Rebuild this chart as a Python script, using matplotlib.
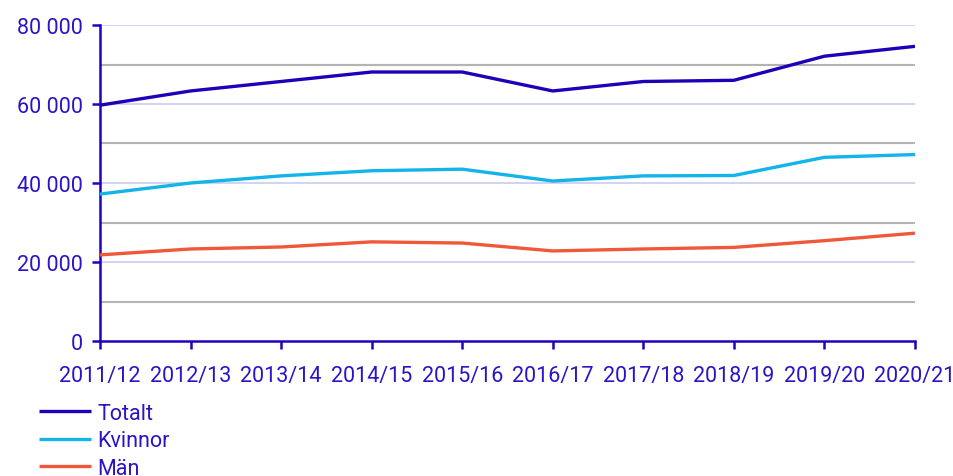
import matplotlib
matplotlib.use("Agg")
import matplotlib.pyplot as plt
from matplotlib.ticker import FuncFormatter, MultipleLocator

years = ["2011/12", "2012/13", "2013/14", "2014/15", "2015/16",
         "2016/17", "2017/18", "2018/19", "2019/20", "2020/21"]
totalt = [59700, 63300, 65700, 68100, 68100, 63300, 65700, 66000, 72100, 74600]
kvinnor = [37200, 40000, 41800, 43100, 43500, 40500, 41800, 41900, 46500, 47200]
man = [21800, 23300, 23800, 25100, 24800, 22800, 23300, 23700, 25400, 27300]

TEXT = "#2a14c8"
AXIS = "#2200c0"

plt.rcParams['font.family'] = ['Roboto', 'DejaVu Sans']

fig = plt.figure(figsize=(9.54, 4.77), dpi=100)
ax = fig.add_axes([100/954, (477-342)/477, (915-100)/954, (342-26)/477])

x = list(range(len(years)))
ax.plot(x, totalt, color="#1f00b8", lw=2.4, label="Totalt", solid_capstyle="butt", zorder=5)
ax.plot(x, kvinnor, color="#12b4ea", lw=2.4, label="Kvinnor", solid_capstyle="butt", zorder=5)
ax.plot(x, man, color="#f0583a", lw=2.4, label="Män", solid_capstyle="butt", zorder=5)

ax.set_xlim(0, len(years) - 1)
ax.set_ylim(0, 80000)
ax.set_xticks(x)
ax.set_xticklabels(years)
ax.yaxis.set_major_locator(MultipleLocator(20000))
ax.yaxis.set_major_formatter(FuncFormatter(lambda v, p: f"{int(v):,}".replace(",", " ")))

for v in range(10000, 80000, 20000):
    ax.axhline(v, color="#b4b4b4", lw=1.5, zorder=1)
for v in range(20000, 80001, 20000):
    ax.axhline(v, color="#d2d2f2", lw=1.4, zorder=1)

for s in ["top", "right"]:
    ax.spines[s].set_visible(False)
for s in ["left", "bottom"]:
    ax.spines[s].set_color(AXIS)
    ax.spines[s].set_linewidth(1.8)
ax.tick_params(axis="both", colors=AXIS, labelcolor=TEXT, labelsize=15.5,
               length=5.5, width=1.8, direction="out")
ax.tick_params(axis="y", pad=7)
ax.tick_params(axis="x", pad=12)

leg = fig.legend(loc="upper left", bbox_to_anchor=(39/954, 1 - 404/477), frameon=False,
                 fontsize=15.5, handlelength=2.4, handletextpad=0.3, labelspacing=0.3,
                 borderaxespad=0, borderpad=0)
for t in leg.get_texts():
    t.set_color(TEXT)

fig.savefig("out.png", dpi=100)
